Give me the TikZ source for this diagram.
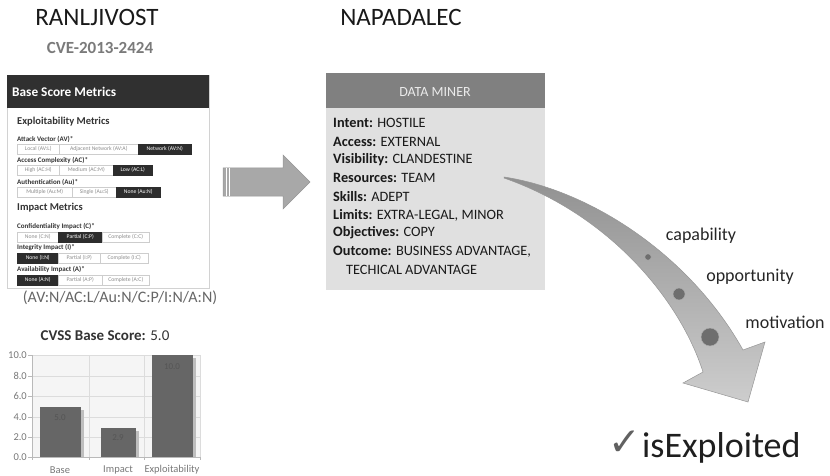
\documentclass[tikz,border=0pt]{standalone}
\usepackage{fontspec}
\setmainfont{Carlito}
\newfontfamily\symfont{DejaVu Sans}
\newcommand\fsz[1]{\fontsize{#1}{#1}\selectfont}
\definecolor{panelink}{RGB}{51,51,51}
\definecolor{btnline}{RGB}{205,205,205}
\definecolor{btntext}{RGB}{140,140,140}
\definecolor{btndark}{RGB}{45,45,45}
\definecolor{hdrdark}{RGB}{48,48,48}
\definecolor{minerhdr}{RGB}{128,128,128}
\definecolor{minerbody}{RGB}{224,224,224}
\definecolor{arrowfill}{RGB}{168,168,168}
\definecolor{arrowline}{RGB}{150,150,150}
\definecolor{barfill}{RGB}{102,102,102}
\definecolor{barshadow}{RGB}{190,190,190}
\definecolor{barlbl}{RGB}{85,85,85}
\definecolor{axistext}{RGB}{120,120,120}
\definecolor{gridline}{RGB}{220,220,220}
\definecolor{plotbg}{RGB}{245,245,245}
\definecolor{dotfill}{RGB}{110,110,110}
\begin{document}
\begin{tikzpicture}[x=1pt,y=-1pt,
  title/.style={inner sep=0, font=\fsz{25}, text=black!90},
  lbl/.style={inner sep=0, anchor=west, font=\fsz{7}\bfseries, text=panelink},
  sect/.style={inner sep=0, anchor=west, font=\fsz{10.5}\bfseries, text=panelink},
  btnl/.style={draw=btnline, fill=white, text=btntext, inner sep=0, minimum height=10pt, anchor=north west, font=\fsz{5.7}, line width=0.5pt},
  btnd/.style={btnl, fill=btndark, text=white, draw=btndark},
  minerline/.style={inner sep=0, anchor=west, font=\fsz{14.3}, text=black!90},
  ylab/.style={inner sep=0, anchor=east, font=\fsz{10.5}, text=axistext},
  xlab/.style={inner sep=0, font=\fsz{10.5}, text=axistext},
  barv/.style={inner sep=0, font=\fsz{9}, text=barlbl},
  factor/.style={inner sep=0, font=\fsz{18}, text=black!85},
  dot/.style={circle, fill=dotfill, draw=gray!60, line width=0.4pt, inner sep=0}
]
\useasboundingbox (0,0) rectangle (830,476);

% ---- titles
\node[title] (t1) at (97,17) {RANLJIVOST};
\node[title] (t2) at (401,17) {NAPADALEC};
\node[inner sep=0, font=\fsz{17}\bfseries, text=black!52] (cve) at (100,48) {CVE-2013-2424};

% ---- Base score metrics panel
\draw[draw=gray!35, fill=white, line width=0.7pt] (7,75) rectangle (209,288);
\fill[hdrdark] (7,75) rectangle (209,108);
\node[inner sep=0, anchor=west, font=\fsz{13.3}\bfseries, text=white] (bsm) at (12,92) {Base Score Metrics};

\node[sect] (expl) at (17,122) {Exploitability Metrics};
\node[lbl] (av) at (17,139) {Attack Vector (AV)*};
\node[btnl, minimum width=42pt] (b11) at (17,144) {Local (AV:L)};
\node[btnl, minimum width=79pt] (b12) at (59,144) {Adjacent Network (AV:A)};
\node[btnd, minimum width=53pt] (b13) at (138,144) {Network (AV:N)};
\node[lbl] (ac) at (17,160) {Access Complexity (AC)*};
\node[btnl, minimum width=42pt] (b21) at (17,165) {High (AC:H)};
\node[btnl, minimum width=54pt] (b22) at (59,165) {Medium (AC:M)};
\node[btnd, minimum width=39pt] (b23) at (113,165) {Low (AC:L)};
\node[lbl] (au) at (17,182) {Authentication (Au)*};
\node[btnl, minimum width=55pt] (b31) at (17,187) {Multiple (Au:M)};
\node[btnl, minimum width=44pt] (b32) at (72,187) {Single (Au:S)};
\node[btnd, minimum width=44pt] (b33) at (116,187) {None (Au:N)};

\node[sect] (imp) at (17,208) {Impact Metrics};
\node[lbl] (ci) at (17,226) {Confidentiality Impact (C)*};
\node[btnl, minimum width=41pt] (b41) at (17,232) {None (C:N)};
\node[btnd, minimum width=44pt] (b42) at (58,232) {Partial (C:P)};
\node[btnl, minimum width=47pt] (b43) at (102,232) {Complete (C:C)};
\node[lbl] (ii) at (17,247) {Integrity Impact (I)*};
\node[btnd, minimum width=41pt] (b51) at (17,253) {None (I:N)};
\node[btnl, minimum width=42pt] (b52) at (58,253) {Partial (I:P)};
\node[btnl, minimum width=48pt] (b53) at (100,253) {Complete (I:C)};
\node[lbl] (ai) at (17,269) {Availability Impact (A)*};
\node[btnd, minimum width=41pt] (b61) at (17,275) {None (A:N)};
\node[btnl, minimum width=44pt] (b62) at (58,275) {Partial (A:P)};
\node[btnl, minimum width=47pt] (b63) at (102,275) {Complete (A:C)};

\node[inner sep=0, font=\fsz{16}, text=black!60] (vec) at (120,298) {(AV:N/AC:L/Au:N/C:P/I:N/A:N)};

% ---- chart
\node[inner sep=0, font=\fsz{15}, text=panelink] (cvss) at (105,336) {\textbf{CVSS Base Score:} 5.0};
\fill[plotbg] (32,355) rectangle (200,457);
\foreach \yy in {355,376,396,417,437} \draw[gridline, line width=0.6pt] (32,\yy) -- (200,\yy);
\foreach \xx in {89,144,200} \draw[gridline, line width=0.6pt] (\xx,355) -- (\xx,457);
% bars with shadow
\fill[barshadow] (43,410) rectangle (84,457);
\fill[barshadow] (104,431) rectangle (139,457);
\fill[barshadow] (155,358) rectangle (196,457);
\fill[barfill] (40,407) rectangle (81,457);
\fill[barfill] (101,428) rectangle (136,457);
\fill[barfill] (152,355) rectangle (193,457);
\node[barv] (v1) at (60,418) {5.0};
\node[barv] (v2) at (118,438) {2.9};
\node[barv] (v3) at (172,367) {10.0};
% axes
\draw[gray!55, line width=0.8pt] (32,355) -- (32,460);
\draw[gray!55, line width=0.8pt] (28,457) -- (200,457);
\foreach \yy in {355,376,396,417,437,457} \draw[gray!55, line width=0.8pt] (28,\yy) -- (32,\yy);
\foreach \xx in {89,144,200} \draw[gray!55, line width=0.8pt] (\xx,457) -- (\xx,460);
\node[ylab] (y10) at (27,355) {10.0};
\node[ylab] (y8) at (27,376) {8.0};
\node[ylab] (y6) at (27,396) {6.0};
\node[ylab] (y4) at (27,417) {4.0};
\node[ylab] (y2) at (27,437) {2.0};
\node[ylab] (y0) at (27,457) {0.0};
\node[xlab] (xb) at (60,470) {Base};
\node[xlab] (xi) at (118,470) {Impact};
\node[xlab] (xe) at (172,470) {Exploitability};

% ---- straight arrow
\draw[fill=arrowfill, draw=arrowline, line width=0.5pt]
  (223,168) -- (283,168) -- (283,155) -- (310,182) -- (283,209) -- (283,196) -- (223,196) -- cycle;
\draw[white, line width=0.8pt] (226,168.5) -- (226,195.5);
\draw[white, line width=0.8pt] (229.5,168.5) -- (229.5,195.5);

% ---- data miner box
\fill[minerbody] (326,73) rectangle (545,290);
\fill[minerhdr] (326,73) rectangle (545,108);
\node[inner sep=0, font=\fsz{14}, text=white!92!black] (dm) at (435,92) {DATA MINER};
\node[minerline] (m1) at (333,123) {\textbf{Intent:} HOSTILE};
\node[minerline] (m2) at (333,142) {\textbf{Access:} EXTERNAL};
\node[minerline] (m3) at (333,160) {\textbf{Visibility:} CLANDESTINE};
\node[minerline] (m4) at (333,178) {\textbf{Resources:} TEAM};
\node[minerline] (m5) at (333,197) {\textbf{Skills:} ADEPT};
\node[minerline] (m6) at (333,215) {\textbf{Limits:} EXTRA-LEGAL, MINOR};
\node[minerline] (m7) at (333,233) {\textbf{Objectives:} COPY};
\node[minerline] (m8) at (333,252) {\textbf{Outcome:} BUSINESS ADVANTAGE,};
\node[minerline] (m9) at (346,270) {TECHICAL ADVANTAGE};

% ---- curved arrow
\shade[top color={rgb,255:red,145;green,145;blue,145}, bottom color={rgb,255:red,205;green,205;blue,205}, draw=arrowline, line width=0.5pt]
  (504,177) .. controls (590,190) and (690,255) .. (743,350)
  -- (765,342) -- (748,402) -- (683,383) -- (703,372)
  .. controls (680,300) and (610,215) .. (504,178) -- cycle;
\node[dot, minimum size=6.5pt] (d1) at (648,257) {};
\node[dot, minimum size=12pt] (d2) at (679,294) {};
\node[dot, minimum size=18pt] (d3) at (710,337) {};
\node[factor] (f1) at (701,236) {capability};
\node[factor] (f2) at (750,277) {opportunity};
\node[factor] (f3) at (785,322) {motivation};

% ---- result
\node[inner sep=0, anchor=base west, font=\fsz{36}, text=black!88] (res) at (642,457) {isExploited};
\node[inner sep=0, anchor=south east, font=\symfont\fsz{39}, text=black!62] (chk) at (641,456) {✓};
\end{tikzpicture}
\end{document}
